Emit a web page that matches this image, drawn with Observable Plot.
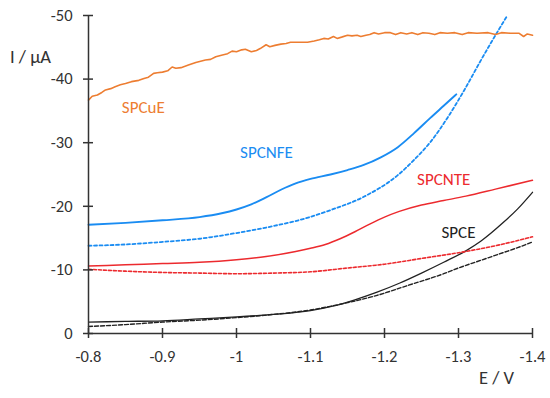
<!DOCTYPE html>
<html><head><meta charset="utf-8">
<script src="https://cdn.jsdelivr.net/npm/d3@7"></script>
<script src="https://cdn.jsdelivr.net/npm/@observablehq/plot@0.6"></script>
<style>body{margin:0;background:#fff}</style>
</head><body><div id="chart"></div>
<script>
const xTicks = [-0.8, -0.9, -1, -1.1, -1.2, -1.3, -1.4];
const yTicks = [0, -10, -20, -30, -40, -50];

// SPCuE (orange)
const cuE_E = [-0.800,-0.805,-0.812,-0.818,-0.823,-0.830,-0.836,-0.843,-0.850,-0.858,-0.868,-0.875,-0.881,-0.888,-0.893,-0.900,-0.907,-0.913,-0.918,-0.925,-0.935,-0.945,-0.958,-0.965,-0.972,-0.981,-0.988,-0.994,-1.000,-1.007,-1.012,-1.020,-1.027,-1.032,-1.040,-1.045,-1.052,-1.060,-1.067,-1.073,-1.085,-1.096,-1.105,-1.112,-1.118,-1.124,-1.131,-1.136,-1.142,-1.150,-1.156,-1.163,-1.168,-1.175,-1.180,-1.186,-1.192,-1.200,-1.208,-1.215,-1.222,-1.230,-1.237,-1.245,-1.252,-1.260,-1.268,-1.275,-1.285,-1.295,-1.305,-1.313,-1.325,-1.340,-1.350,-1.358,-1.370,-1.382,-1.388,-1.393,-1.400];
const cuE_I = [-36.7,-37.3,-37.5,-37.9,-38.3,-38.5,-38.8,-39.1,-39.3,-39.6,-39.8,-40.1,-40.3,-40.9,-41.0,-41.1,-41.3,-41.9,-41.7,-41.8,-42.2,-42.6,-43.0,-43.1,-43.5,-43.8,-44.0,-44.4,-44.3,-44.6,-44.7,-44.3,-44.5,-44.8,-45.4,-45.1,-45.3,-45.5,-45.6,-45.8,-45.8,-45.8,-46.0,-46.2,-46.4,-46.3,-46.7,-46.4,-46.6,-46.9,-46.8,-46.9,-46.7,-46.9,-47.0,-47.3,-47.1,-47.3,-47.3,-47.0,-47.3,-47.1,-47.3,-47.0,-47.3,-47.2,-47.0,-47.3,-47.2,-47.3,-47.0,-47.3,-47.2,-47.3,-47.0,-47.3,-47.2,-47.2,-46.7,-47.1,-46.9];

// SPCNFE (blue) solid and dashed
const nfe_E = [-0.80,-0.85,-0.90,-0.95,-0.98,-1.00,-1.02,-1.04,-1.06,-1.08,-1.10,-1.127,-1.15,-1.172,-1.195,-1.218,-1.24,-1.262,-1.28,-1.297];
const nfe_I = [-17.1,-17.4,-17.8,-18.3,-18.9,-19.5,-20.3,-21.4,-22.6,-23.6,-24.3,-25.0,-25.7,-26.5,-27.7,-29.3,-31.5,-33.9,-35.8,-37.6];
const nfeD_E = [-0.80,-0.85,-0.90,-0.95,-1.00,-1.05,-1.09,-1.127,-1.172,-1.218,-1.24,-1.262,-1.285,-1.307,-1.330,-1.353,-1.366];
const nfeD_I = [-13.8,-14.0,-14.4,-14.9,-15.8,-16.9,-18.0,-19.4,-21.5,-24.9,-27.3,-30.1,-33.9,-38.1,-42.9,-47.5,-50.0];

// SPCNTE (red) solid and dashed
const nte_E = [-0.80,-0.85,-0.90,-0.95,-1.00,-1.04,-1.08,-1.10,-1.12,-1.14,-1.16,-1.18,-1.20,-1.22,-1.25,-1.28,-1.31,-1.35,-1.40];
const nte_I = [-10.6,-10.8,-11.0,-11.2,-11.6,-12.1,-12.9,-13.4,-14.0,-14.9,-16.0,-17.2,-18.3,-19.2,-20.2,-20.9,-21.6,-22.7,-24.1];
const nteD_E = [-0.80,-0.85,-0.90,-0.95,-1.00,-1.05,-1.10,-1.15,-1.20,-1.25,-1.30,-1.35,-1.40];
const nteD_I = [-10.1,-9.8,-9.6,-9.5,-9.4,-9.5,-9.7,-10.3,-10.9,-11.8,-12.7,-13.8,-15.2];

// SPCE (black) solid and dashed
const ce_E = [-0.80,-0.85,-0.90,-0.95,-1.00,-1.05,-1.10,-1.13,-1.16,-1.19,-1.22,-1.25,-1.28,-1.31,-1.33,-1.36,-1.38,-1.40];
const ce_I = [-1.8,-1.9,-2.0,-2.3,-2.6,-3.0,-3.6,-4.3,-5.3,-6.5,-7.9,-9.5,-11.2,-13.0,-14.5,-17.4,-19.6,-22.2];
const ceD_E = [-0.80,-0.85,-0.90,-0.95,-1.00,-1.05,-1.10,-1.14,-1.19,-1.23,-1.28,-1.30,-1.33,-1.36,-1.38,-1.40];
const ceD_I = [-1.1,-1.4,-1.8,-2.1,-2.5,-3.0,-3.7,-4.6,-6.0,-7.5,-9.4,-10.3,-11.5,-12.7,-13.5,-14.4];

const labelNames = ["SPCuE", "SPCNFE", "SPCNTE", "SPCE"];
const labelE = [-0.874, -1.0405, -1.28, -1.30];
const labelI = [-35.6, -28.5, -24.25, -15.9];

const ORANGE = "#ED7D31", BLUE = "#1a8cf2", RED = "#ec2a2e", BLACK = "#222222";
const labelColors = [ORANGE, BLUE, RED, BLACK];

const series = [
  {E: ceD_E, I: ceD_I, color: BLACK, dash: "4,2", width: 1.4, curve: "monotone-x"},
  {E: ce_E, I: ce_I, color: BLACK, dash: null, width: 1.3, curve: "monotone-x"},
  {E: nteD_E, I: nteD_I, color: RED, dash: "3,2", width: 1.6, curve: "monotone-x"},
  {E: nte_E, I: nte_I, color: RED, dash: null, width: 1.5, curve: "monotone-x"},
  {E: nfeD_E, I: nfeD_I, color: BLUE, dash: "3,2.5", width: 1.8, curve: "monotone-x"},
  {E: nfe_E, I: nfe_I, color: BLUE, dash: null, width: 1.9, curve: "monotone-x"},
  {E: cuE_E, I: cuE_I, color: ORANGE, dash: null, width: 1.6, curve: "linear"}
];

const FONT = "Carlito, Calibri, Lato, 'Open Sans', sans-serif";

const chart = Plot.plot({
  width: 550,
  height: 398,
  marginLeft: 88,
  marginRight: 18,
  marginTop: 15,
  marginBottom: 65,
  style: {fontFamily: FONT, fontSize: "16.5px", color: "#333", background: "#fff"},
  x: {domain: [-0.8, -1.4]},
  y: {domain: [0, -50]},
  marks: [
    ...series.map(s => Plot.line(s.E.map((e, i) => ({E: e, I: s.I[i]})), {
      x: "E", y: "I", stroke: s.color, strokeWidth: s.width,
      strokeDasharray: s.dash, curve: s.curve
    })),
    Plot.ruleX([xTicks[0]], {stroke: "#333", strokeWidth: 1.5}),
    Plot.ruleY([yTicks[0]], {stroke: "#333", strokeWidth: 1.5}),
    Plot.axisY({ticks: yTicks, tickFormat: d => String(d), tickSize: 10, dx: 5, tickPadding: 11,
      label: null, stroke: "#333", strokeWidth: 1.5, fill: "#333", fontSize: 16.5}),
    Plot.axisX({ticks: xTicks, tickFormat: d => String(d), tickSize: 10, dy: -5, tickPadding: 12,
      label: null, stroke: "#333", strokeWidth: 1.5, fill: "#333", fontSize: 16.5}),
    Plot.text(["I / µA"], {text: d => d, frameAnchor: "top-left", dx: -58, dy: 34,
      textAnchor: "middle", fontSize: 18.5, fill: "#333"}),
    Plot.text(["E / V"], {text: d => d, frameAnchor: "bottom-right", dx: -36, dy: 50,
      textAnchor: "middle", fontSize: 18.5, fill: "#333"}),
    ...labelNames.map((n, i) => Plot.text([n], {
      x: () => labelE[i], y: () => labelI[i], text: d => d,
      fill: labelColors[i], fontSize: 17
    }))
  ]
});
document.getElementById("chart").appendChild(chart);
</script>
</body></html>
